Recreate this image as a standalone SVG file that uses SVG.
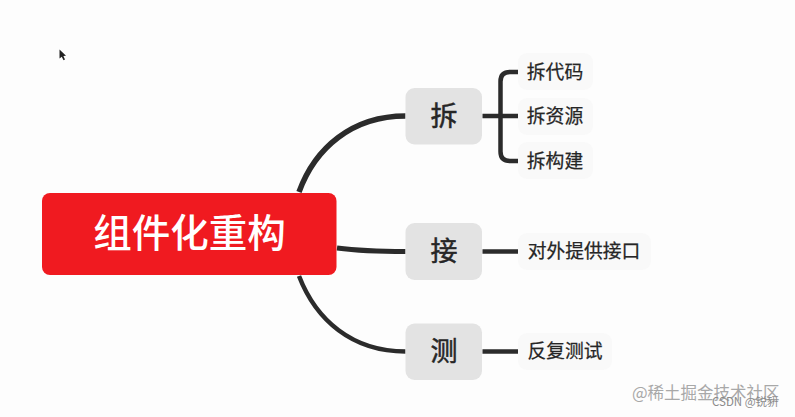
<svg xmlns="http://www.w3.org/2000/svg" width="795" height="417" viewBox="0 0 795 417">
<style>
text{font-family:"Noto Sans CJK SC","Liberation Sans",sans-serif;text-anchor:middle}
.lv1 rect{fill:#e3e3e3}
.lv1 text{font-size:27px;fill:#262626;font-weight:400;stroke:#262626;stroke-width:.5px}
.lv2 rect{fill:#f9f9f9}
.lv2 text{font-size:18.8px;fill:#262626;font-weight:400;stroke:#262626;stroke-width:.25px}
.c{fill:none;stroke:#2b2b2b;stroke-linecap:butt}
.wm{fill:#a8a8a8;text-anchor:start}
</style>
<rect width="795" height="417" fill="#fdfdfd"/>
<path d="M59.500 49.500V58.500L61.800 56.700L63.500 60.300L65 59.500L63.400 56.100L66 55.800Z" fill="#222"/>
<g id="connectors">
<path class="c" stroke-width="5.500" d="M299 192C315 148 352 116 405.500 116"/>
<path class="c" stroke-width="5" d="M337 248C360 251 380 251.500 405.500 251.500"/>
<path class="c" stroke-width="4.500" d="M299 276C316 320 352 351.500 405.500 351.500"/>
<path class="c" stroke-width="4.500" d="M482.500 116H518"/>
<path class="c" stroke-width="4.500" d="M518 72H510Q500.500 72 500.500 81.500V151.500Q500.500 161 510 161H518"/>
<path class="c" stroke-width="4.500" d="M482.500 251.500H518"/>
<path class="c" stroke-width="4.500" d="M482.500 351.500H518"/>
</g>
<g id="root"><rect x="42" y="193" width="294.500" height="82" rx="8" fill="#f01a20"/><text x="189.500" y="247" font-weight="500" fill="#fff" style="font-size:38.500px">组件化重构</text></g>
<g id="n-chai" class="lv1"><rect x="405.500" y="88" width="76.500" height="56.500" rx="9"/><text x="444" y="125.500">拆</text></g>
<g id="n-jie" class="lv1"><rect x="405.500" y="223" width="76.500" height="57" rx="9"/><text x="444" y="261">接</text></g>
<g id="n-ce" class="lv1"><rect x="405.500" y="323.500" width="76.500" height="56.500" rx="9"/><text x="444" y="361">测</text></g>
<g id="l-code" class="lv2"><rect x="518" y="53" width="75" height="37" rx="9"/><text x="555" y="78.500">拆代码</text></g>
<g id="l-res" class="lv2"><rect x="518" y="98" width="75" height="37" rx="9"/><text x="555" y="123">拆资源</text></g>
<g id="l-build" class="lv2"><rect x="518" y="142" width="75" height="37" rx="9"/><text x="555" y="167.500">拆构建</text></g>
<g id="l-api" class="lv2"><rect x="518" y="233" width="133" height="37" rx="9"/><text x="584" y="257.500">对外提供接口</text></g>
<g id="l-test" class="lv2"><rect x="518" y="333" width="94" height="37" rx="9"/><text x="565" y="358">反复测试</text></g>
<text class="wm" x="632" y="399" style="font-size:16.500px">@稀土掘金技术社区</text>
<text class="wm" x="712" y="406" style="font-size:11.500px;fill:#8a8a8a">CSDN @锐豣</text>
</svg>
